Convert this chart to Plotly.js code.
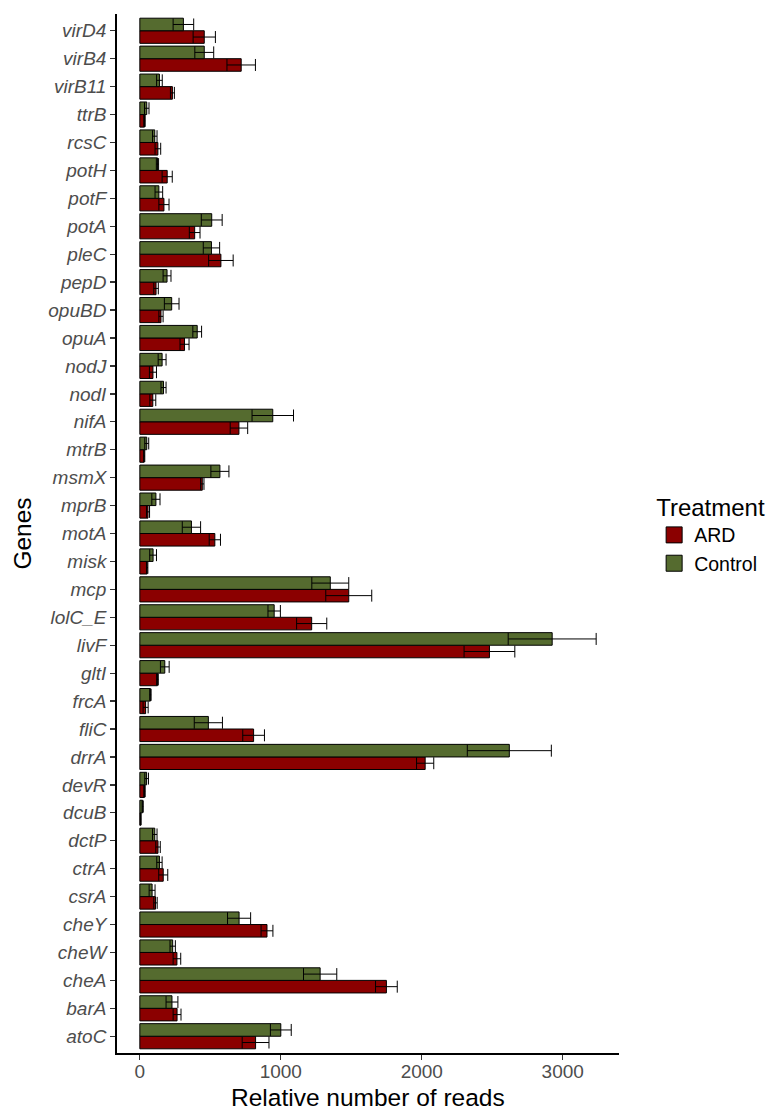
<!DOCTYPE html>
<html>
<head>
<meta charset="utf-8">
<script src="https://cdn.plot.ly/plotly-3.0.1.min.js"></script>
<style>html,body{margin:0;padding:0;background:#fff;}#chart{width:774px;height:1110px;}</style>
</head>
<body>
<div id="chart"></div>
<script>
const genes = ['atoC','barA','cheA','cheW','cheY','csrA','ctrA','dctP','dcuB','devR','drrA','fliC','frcA','gltI','livF','lolC_E','mcp','misk','motA','mprB','msmX','mtrB','nifA','nodI','nodJ','opuA','opuBD','pepD','pleC','potA','potF','potH','rcsC','ttrB','virB11','virB4','virD4'];

const ardMean = [821,264,1749,263,902,111,166,129,6,33,2024,807,41,125,2480,1219,1482,52,532,58,443,31,703,92,93,317,150,115,575,389,171,194,128,33,231,719,457];
const ardSd   = [95,28,77,27,42,12,32,16,3,5,61,77,18,6,180,107,163,5,40,11,12,4,62,21,25,32,15,16,87,38,36,36,20,5,14,101,79];

const ctrlMean = [1000,228,1279,233,704,87,139,106,20,48,2621,486,75,177,2925,953,1351,94,366,114,568,49,943,168,158,407,226,193,508,510,135,125,106,49,139,457,309];
const ctrlSd   = [74,42,118,19,82,21,19,16,4,13,298,100,5,31,312,44,131,24,65,29,64,14,147,18,28,31,52,28,58,74,27,8,16,16,20,67,73];

const seriesNames = ['ARD','Control'];
const seriesColors = ['#8B0000','#556B2F'];
const xTitle = 'Relative number of reads';
const yTitle = 'Genes';
const legendTitle = 'Treatment';

const FONT = 'Liberation Sans, Arial, Helvetica, sans-serif';

function makeTrace(name, color, means, sds){
  return {
    type:'bar', orientation:'h', name:name, showlegend:false,
    y: genes, x: means,
    marker:{color:color, line:{color:'#000000', width:1}},
    error_x:{type:'data', array:sds, visible:true, color:'#000000', thickness:1, width:6},
    hoverinfo:'x+y+name'
  };
}

function legendKey(name, color){
  return {
    type:'scatter', mode:'markers', name:name, showlegend:true,
    x:[null], y:[null],
    marker:{symbol:'square', size:16, color:color, line:{color:'#000000', width:1}},
    hoverinfo:'skip'
  };
}

const data = [
  makeTrace(seriesNames[0], seriesColors[0], ardMean, ardSd),
  makeTrace(seriesNames[1], seriesColors[1], ctrlMean, ctrlSd),
  legendKey(seriesNames[0], seriesColors[0]),
  legendKey(seriesNames[1], seriesColors[1])
];

const layout = {
  width:774, height:1110,
  margin:{l:117, r:155, t:14, b:57, autoexpand:false},
  paper_bgcolor:'#ffffff', plot_bgcolor:'#ffffff',
  barmode:'group', bargap:0.1, bargroupgap:0,
  font:{family:FONT, color:'#000000'},
  showlegend:true,
  legend:{
    x:1.07, xanchor:'left', y:0.5, yanchor:'middle',
    title:{text:legendTitle, font:{size:24, color:'#000000', family:FONT}},
    font:{size:19.5, color:'#000000', family:FONT},
    traceorder:'normal', bgcolor:'rgba(0,0,0,0)', itemwidth:30,
    itemsizing:'trace', tracegroupgap:0
  },
  annotations:[{
    text:xTitle, xref:'paper', yref:'paper', x:0.5, y:-0.0425,
    xanchor:'center', yanchor:'middle', showarrow:false,
    font:{size:24.5, color:'#000000', family:FONT}
  }],
  xaxis:{
    range:[-162, 3399],
    tickvals:[0,1000,2000,3000],
    ticktext:['0','1000','2000','3000'],
    ticks:'outside', ticklen:5, tickwidth:1.3, tickcolor:'#333333',
    ticklabelstandoff:-5,
    showline:true, linecolor:'#000000', linewidth:1.8,
    showgrid:false, zeroline:false,
    tickfont:{size:19, color:'#4D4D4D', family:FONT},
    automargin:false,
    fixedrange:true
  },
  yaxis:{
    type:'category',
    range:[-0.6, genes.length - 0.4],
    ticks:'outside', ticklen:5, tickwidth:1.3, tickcolor:'#333333',
    showline:true, linecolor:'#000000', linewidth:1.8,
    showgrid:false, zeroline:false,
    tickfont:{size:19, color:'#4D4D4D', family:FONT, style:'italic'},
    title:{text:yTitle, font:{size:24.5, color:'#000000', family:FONT}, standoff:10},
    automargin:false,
    fixedrange:true
  }
};

Plotly.newPlot('chart', data, layout, {displayModeBar:false, staticPlot:true});
</script>
</body>
</html>
